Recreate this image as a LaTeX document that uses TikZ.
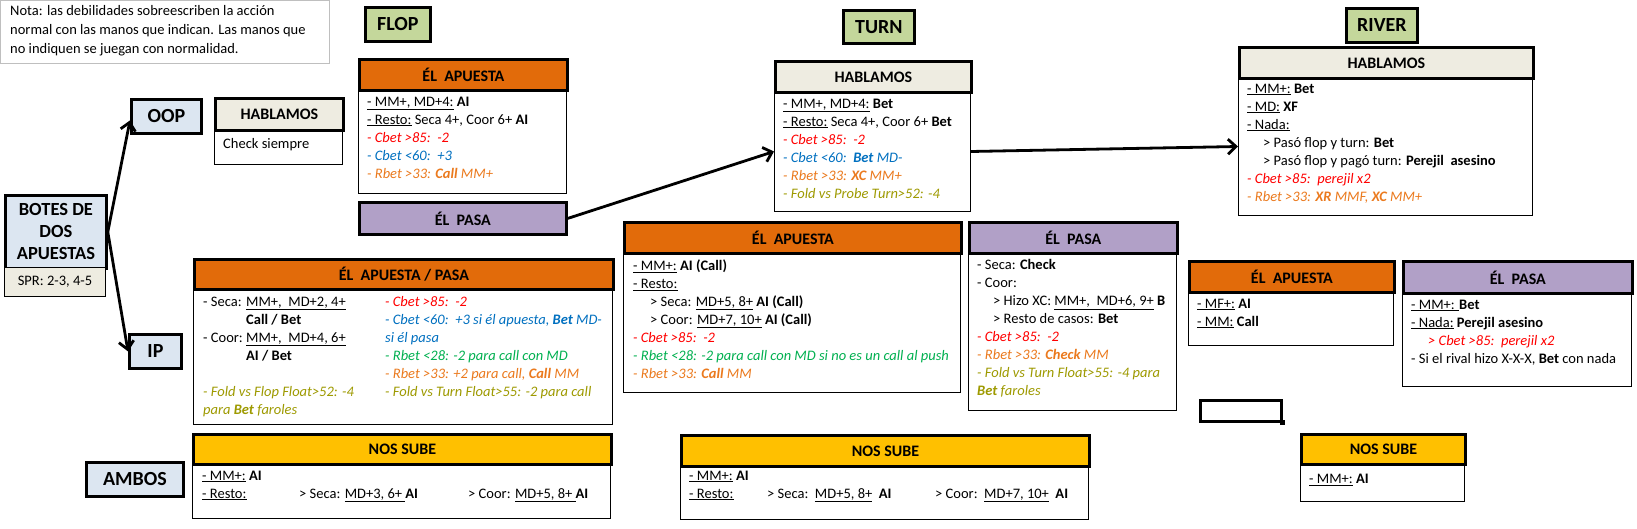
\documentclass[tikz,border=0pt]{standalone}
\usepackage{fontspec}
\setmainfont{Carlito}
\usetikzlibrary{arrows.meta}

\definecolor{azulcaja}{HTML}{DCE6F1}
\definecolor{verdecalle}{HTML}{C4D79B}
\definecolor{crema}{HTML}{EEECE1}
\definecolor{naranja}{HTML}{E26B0A}
\definecolor{lila}{HTML}{B1A0C7}
\definecolor{amarillo}{HTML}{FFC000}
\definecolor{grisnota}{HTML}{BFBFBF}
\definecolor{rojo}{HTML}{FF0000}
\definecolor{azultxt}{HTML}{0070C0}
\definecolor{verdetxt}{HTML}{00B050}
\definecolor{naranjatxt}{HTML}{EB7A1E}
\definecolor{oliva}{HTML}{9E9A00}

\newcommand{\trojo}[1]{\textcolor{rojo}{\itshape #1}}
\newcommand{\tazul}[1]{\textcolor{azultxt}{\itshape #1}}
\newcommand{\tverde}[1]{\textcolor{verdetxt}{\itshape #1}}
\newcommand{\tnaranja}[1]{\textcolor{naranjatxt}{\itshape #1}}
\newcommand{\toliva}[1]{\textcolor{oliva}{\itshape #1}}

\tikzset{
  etiqueta/.style={draw, line width=2.8pt, fill=azulcaja, inner sep=0pt, anchor=north west,
    font=\bfseries\fontsize{20}{24}\selectfont},
  calle/.style={etiqueta, fill=verdecalle},
  cabecera/.style={draw, line width=2.8pt, inner sep=0pt, anchor=north west,
    font=\bfseries\fontsize{16}{19}\selectfont},
  cuerpo/.style={draw, line width=1pt, fill=white, inner sep=0pt, anchor=north west},
  texto/.style={inner sep=0pt, anchor=north west, align=left,
    font=\fontsize{14.5}{18}\selectfont, execute at begin node=\strut},
  flecha/.style={line width=2.8pt, -{Straight Barb[length=8pt,width=15pt]}},
}

\begin{document}
\begin{tikzpicture}[x=1pt,y=-1pt]
\useasboundingbox (0,0) rectangle (1637,529);

\node[draw=grisnota, line width=1.2pt, anchor=north west, inner sep=0pt,
  minimum width=329pt, minimum height=63pt] (nota) at (0,0) {};
\node[texto, font=\fontsize{14.5}{19}\selectfont] (notatxt) at (10,5.7)
  {Nota: las debilidades sobreescriben la acción\\normal con las manos que indican. Las manos que\\no indiquen se juegan con normalidad.};

\node[calle, minimum width=65pt, minimum height=34pt] (flop) at (364,6) {FLOP};
\node[calle, minimum width=71pt, minimum height=33pt] (turn) at (842,9) {TURN};
\node[calle, minimum width=71pt, minimum height=34pt] (river) at (1345,7) {RIVER};

\node[etiqueta, minimum width=101pt, minimum height=73pt, align=center,
  font=\bfseries\fontsize{18.5}{22}\selectfont] (botes) at (4,194) {BOTES DE\\DOS\\APUESTAS};
\node[cuerpo, fill=crema, minimum width=101pt, minimum height=29pt,
  font=\fontsize{14.5}{18}\selectfont] (spr) at (4,267) {SPR: 2-3, 4-5};
\node[etiqueta, minimum width=70pt, minimum height=34pt] (oop) at (130,98) {OOP};
\node[etiqueta, minimum width=52pt, minimum height=34pt] (ip) at (128,333) {IP};
\node[etiqueta, minimum width=97pt, minimum height=34pt] (ambos) at (85,461) {AMBOS};

\node[cuerpo, minimum width=128pt, minimum height=35pt] (oophabcuerpo) at (214,129) {};
\node[cabecera, fill=crema, minimum width=128pt, minimum height=32pt] (oophabcab) at (214,97) {HABLAMOS};
\node[texto] (oophabtxt) at (223,135.4) {Check siempre};

\node[cuerpo, minimum width=208pt, minimum height=104pt] (fapcuerpo) at (358,89) {};
\node[cabecera, fill=naranja, minimum width=208pt, minimum height=31pt] (fapcab) at (358,58) {ÉL~~APUESTA};
\node[texto] (faptxt) at (367,96.4)
  {\underline{- MM+, MD+4:} \textbf{AI}\\
   \underline{- Resto:} Seca 4+, Coor 6+ \textbf{AI}\\
   \trojo{- Cbet >85:\ \ -2}\\
   \tazul{- Cbet <60:\ \ +3}\\
   \tnaranja{- Rbet >33: \textbf{Call} MM+}};

\node[cabecera, fill=lila, minimum width=207pt, minimum height=32pt] (fpasa) at (358,201) {ÉL~~PASA};

\node[cuerpo, minimum width=419pt, minimum height=136pt] (fapcuerpo2) at (193,288) {};
\node[cabecera, fill=naranja, minimum width=419pt, minimum height=30pt] (fapcab2) at (193,258) {ÉL~~APUESTA / PASA};
\node[texto] (fapizq) at (203,296.4)
  {\makebox[43pt][l]{- Seca:}\underline{MM+,\ \ MD+2, 4+}\\
   \hspace*{43pt}\textbf{Call / Bet}\\
   \makebox[43pt][l]{- Coor:}\underline{MM+,\ \ MD+4, 6+}\\
   \hspace*{43pt}\textbf{AI / Bet}\\
   \mbox{}\\
   \toliva{- Fold vs Flop Float>52: -4}\\
   \toliva{para \textbf{Bet} faroles}};
\node[texto] (fapder) at (385,296.4)
  {\trojo{- Cbet >85:\ \ -2}\\
   \tazul{- Cbet <60:\ \ +3 si él apuesta, \textbf{Bet} MD-}\\
   \tazul{si él pasa}\\
   \tverde{- Rbet <28: -2 para call con MD}\\
   \tnaranja{- Rbet >33: +2 para call, \textbf{Call} MM}\\
   \toliva{- Fold vs Turn Float>55: -2 para call}};

\node[cuerpo, minimum width=418pt, minimum height=55pt] (fsubecuerpo) at (192,463) {};
\node[cabecera, fill=amarillo, minimum width=418pt, minimum height=30pt] (fsubecab) at (192,433) {NOS SUBE};
\node[texto] (fsubetxt) at (202,470.4)
  {\underline{- MM+:} \textbf{AI}\\
   \makebox[97pt][l]{\underline{- Resto:}}\makebox[169pt][l]{> Seca: \underline{MD+3, 6+ }\textbf{AI}}> Coor: \underline{MD+5, 8+ }\textbf{AI}};

\node[cuerpo, minimum width=196pt, minimum height=120pt] (thabcuerpo) at (774,91) {};
\node[cabecera, fill=crema, minimum width=196pt, minimum height=31pt] (thabcab) at (774,60) {HABLAMOS};
\node[texto] (thabtxt) at (783,98.4)
  {\underline{- MM+, MD+4:} \textbf{Bet}\\
   \underline{- Resto:} Seca 4+, Coor 6+ \textbf{Bet}\\
   \trojo{- Cbet >85:\ \ -2}\\
   \tazul{- Cbet <60:\ \ \textbf{Bet} MD-}\\
   \tnaranja{- Rbet >33: \textbf{XC} MM+}\\
   \toliva{- Fold vs Probe Turn>52: -4}};

\node[cuerpo, minimum width=337pt, minimum height=140pt] (tapcuerpo) at (623,252) {};
\node[cabecera, fill=naranja, minimum width=337pt, minimum height=31pt] (tapcab) at (623,221) {ÉL~~APUESTA};
\node[texto] (taptxt) at (633,259.4)
  {\underline{- MM+:} \textbf{AI (Call)}\\
   \underline{- Resto:}\\
   \hspace*{17pt}> Seca: \underline{MD+5, 8+} \textbf{AI (Call)}\\
   \hspace*{17pt}> Coor: \underline{MD+7, 10+} \textbf{AI (Call)}\\
   \trojo{- Cbet >85:\ \ -2}\\
   \tverde{- Rbet <28: -2 para call con MD si no es un call al push}\\
   \tnaranja{- Rbet >33: \textbf{Call} MM}};

\node[cuerpo, minimum width=208pt, minimum height=158pt] (tpasacuerpo) at (968,252) {};
\node[cabecera, fill=lila, minimum width=208pt, minimum height=31pt] (tpasacab) at (968,221) {ÉL~~PASA};
\node[texto] (tpasatxt) at (977,259.4)
  {- Seca: \textbf{Check}\\
   - Coor:\\
   \hspace*{16pt}> Hizo XC: \underline{MM+,\ \ MD+6, 9+} \textbf{B}\\
   \hspace*{16pt}> Resto de casos: \textbf{Bet}\\
   \trojo{- Cbet >85:\ \ -2}\\
   \tnaranja{- Rbet >33: \textbf{Check} MM}\\
   \toliva{- Fold vs Turn Float>55: -4 para}\\
   \toliva{\textbf{Bet} faroles}};

\node[cuerpo, minimum width=408pt, minimum height=54pt] (tsubecuerpo) at (680,465) {};
\node[cabecera, fill=amarillo, minimum width=408pt, minimum height=31pt] (tsubecab) at (680,434) {NOS SUBE};
\node[texto] (tsubetxt) at (689,470.4)
  {\underline{- MM+:} \textbf{AI}\\
   \makebox[78pt][l]{\underline{- Resto:}}\makebox[168pt][l]{> Seca:\ \ \underline{MD+5, 8+}\ \ \textbf{AI}}> Coor:\ \ \underline{MD+7, 10+}\ \ \textbf{AI}};

\node[cuerpo, minimum width=294pt, minimum height=138pt] (rhabcuerpo) at (1238,77) {};
\node[cabecera, fill=crema, minimum width=294pt, minimum height=31pt] (rhabcab) at (1238,46) {HABLAMOS};
\node[texto] (rhabtxt) at (1247,83.4)
  {\underline{- MM+:} \textbf{Bet}\\
   \underline{- MD:} \textbf{XF}\\
   \underline{- Nada:}\\
   \hspace*{16pt}> Pasó flop y turn: \textbf{Bet}\\
   \hspace*{16pt}> Pasó flop y pagó turn: \textbf{Perejil\ \ asesino}\\
   \trojo{- Cbet >85:\ \ perejil x2}\\
   \tnaranja{- Rbet >33: \textbf{XR} MMF, \textbf{XC} MM+}};

\node[cuerpo, minimum width=205pt, minimum height=54pt] (rapcuerpo) at (1188,291) {};
\node[cabecera, fill=naranja, minimum width=205pt, minimum height=31pt] (rapcab) at (1188,260) {ÉL~~APUESTA};
\node[texto] (raptxt) at (1197,298.4)
  {\underline{- MF+:} \textbf{AI}\\
   \underline{- MM:} \textbf{Call}};

\node[cuerpo, minimum width=229pt, minimum height=94pt] (rpasacuerpo) at (1402,292) {};
\node[cabecera, fill=lila, minimum width=229pt, minimum height=32pt] (rpasacab) at (1402,260) {ÉL~~PASA};
\node[texto] (rpasatxt) at (1411,299.4)
  {\underline{- MM+: }\textbf{Bet}\\
   \underline{- Nada:} \textbf{Perejil asesino}\\
   \hspace*{17pt}\trojo{> Cbet >85:\ \ perejil x2}\\
   - Si el rival hizo X-X-X, \textbf{Bet} con nada};

\node[draw, line width=2.8pt, anchor=north west, inner sep=0pt,
  minimum width=81pt, minimum height=21pt] (celda) at (1199,399) {};
\node[fill=black, inner sep=0pt, minimum size=5pt] (asa) at (celda.south east) {};

\node[cuerpo, minimum width=164pt, minimum height=38pt] (rsubecuerpo) at (1300,463) {};
\node[cabecera, fill=amarillo, minimum width=164pt, minimum height=30pt] (rsubecab) at (1300,433) {NOS SUBE};
\node[texto] (rsubetxt) at (1309,470.4) {\underline{- MM+:} \textbf{AI}};

\draw[flecha] (botes.east) -- ([yshift=-4pt]oop.west);
\draw[flecha] (botes.east) -- (ip.west);
\draw[flecha] (fpasa.east) -- (thabcuerpo.west);
\draw[flecha] (thabcuerpo.east) -- (rhabcuerpo.west);
\end{tikzpicture}
\end{document}
